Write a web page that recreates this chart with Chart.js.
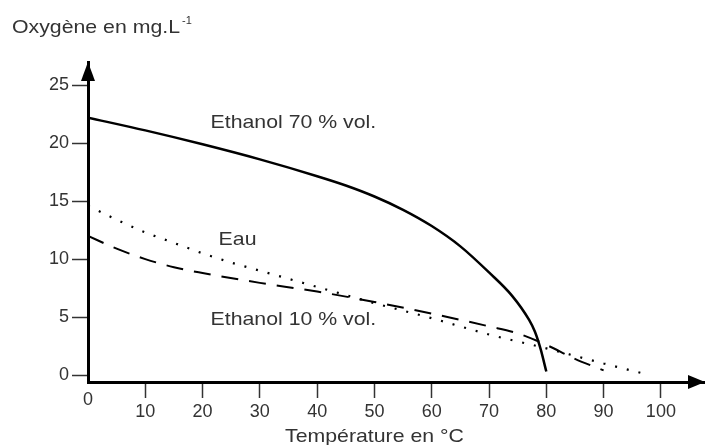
<!DOCTYPE html>
<html>
<head>
<meta charset="utf-8">
<script src="https://cdn.jsdelivr.net/npm/chart.js@4.4.0/dist/chart.umd.min.js"></script>
<style>
  html, body { margin: 0; padding: 0; background: #fff; }
  #wrap { width: 705px; height: 445px; }
</style>
</head>
<body>
<div id="wrap"><canvas id="grafico"></canvas></div>
<script>
// Oxygène dissous en fonction de la température

// ticks
var xTicks = [0, 10, 20, 30, 40, 50, 60, 70, 80, 90, 100];
var yTicks = [0, 5, 10, 15, 20, 25];

// Ethanol 70 % vol.
var tE70 = [0, 10, 20, 30, 40, 45, 50, 55, 60, 65, 70, 74, 77, 78, 79, 80];
var oE70 = [22.2, 21.1, 19.9, 18.6, 17.15, 16.35, 15.4, 14.25, 12.85, 11.1, 8.85, 6.85, 4.75, 3.75, 2.25, 0.3];

// Eau
var tEau = [0, 5, 10, 15, 20, 25, 30, 40, 50, 60, 70, 80, 90, 98];
var oEau = [14.6, 13.4, 12.3, 11.4, 10.5, 9.7, 9.0, 7.6, 6.2, 4.9, 3.5, 2.3, 1.0, 0];

// Ethanol 10 % vol.
var tE10 = [0, 5, 10, 15, 20, 30, 40, 50, 60, 70, 75, 80, 85, 90];
var oE10 = [12.0, 10.9, 10.0, 9.3, 8.8, 7.95, 7.2, 6.3, 5.3, 4.2, 3.6, 2.6, 1.4, 0.4];

// curve labels (text, temperature, oxygen)
var labelTexts = ['Ethanol 70 % vol.', 'Eau', 'Ethanol 10 % vol.'];
var labelT = [21.4, 22.8, 21.4];
var labelO = [21.8, 11.7, 4.8];

var fonte = '"Liberation Sans", Arial, sans-serif';
var cinza = '#333';

function pontos(xs, ys) {
  var out = [];
  for (let i = 0; i < xs.length; i++) {
    out.push({ x: xs[i], y: ys[i] });
  }
  return out;
}

// texte un peu élargi comme sur le document d'origine
function texto(ctx, t, x, y) {
  ctx.save();
  ctx.translate(x, y);
  ctx.scale(1.12, 1);
  ctx.fillText(t, 0, 0);
  var w = ctx.measureText(t).width * 1.12;
  ctx.restore();
  return w;
}

const decor = {
  id: 'decor',
  afterDraw(chart) {
    const ctx = chart.ctx;
    const a = chart.chartArea;
    const sx = chart.scales.x;
    const sy = chart.scales.y;
    ctx.save();

    // flèches des axes
    ctx.fillStyle = '#000';
    ctx.beginPath();
    ctx.moveTo(a.left, a.top);
    ctx.lineTo(a.left - 7, a.top + 19);
    ctx.lineTo(a.left + 7, a.top + 19);
    ctx.closePath();
    ctx.fill();

    ctx.beginPath();
    ctx.moveTo(a.right, a.bottom);
    ctx.lineTo(a.right - 17, a.bottom - 7);
    ctx.lineTo(a.right - 17, a.bottom + 7);
    ctx.closePath();
    ctx.fill();

    ctx.fillStyle = cinza;

    // 0 sous l'origine
    ctx.font = '18px ' + fonte;
    ctx.textAlign = 'center';
    ctx.textBaseline = 'middle';
    ctx.fillText('0', sx.getPixelForValue(0), a.bottom + 18);

    // titre de l'axe x
    ctx.font = '19px ' + fonte;
    ctx.textBaseline = 'alphabetic';
    texto(ctx, 'Température en °C', sx.getPixelForValue(50), 442);

    // titre de l'axe y
    ctx.textAlign = 'left';
    var w = texto(ctx, 'Oxygène en mg.L', 12, 33);
    ctx.font = '11px ' + fonte;
    ctx.fillText('-1', 12 + w + 2, 24);

    // étiquettes des courbes
    ctx.font = '19px ' + fonte;
    ctx.textBaseline = 'middle';
    for (let i = 0; i < labelTexts.length; i++) {
      texto(ctx, labelTexts[i], sx.getPixelForValue(labelT[i]), sy.getPixelForValue(labelO[i]));
    }
    ctx.restore();
  }
};

new Chart(document.getElementById('grafico'), {
  type: 'line',
  data: {
    datasets: [
      {
        label: 'Ethanol 70 % vol.',
        data: pontos(tE70, oE70),
        borderColor: '#000',
        borderWidth: 2.5,
        pointRadius: 0,
        cubicInterpolationMode: 'monotone',
        fill: false
      }, {
        label: 'Eau',
        data: pontos(tEau, oEau),
        borderColor: '#000',
        borderWidth: 2.2,
        borderDash: [2, 10],
        pointRadius: 0,
        cubicInterpolationMode: 'monotone',
        fill: false
      }, {
        label: 'Ethanol 10 % vol.',
        data: pontos(tE10, oE10),
        borderColor: '#000',
        borderWidth: 2,
        borderDash: [17, 11],
        pointRadius: 0,
        cubicInterpolationMode: 'monotone',
        fill: false
      }
    ]
  },
  options: {
    responsive: true,
    maintainAspectRatio: false,
    animation: false,
    devicePixelRatio: 1,
    events: [],
    layout: {
      padding: { top: 62, right: 0, left: 0, bottom: 0 }
    },
    plugins: {
      legend: { display: false },
      tooltip: { enabled: false }
    },
    scales: {
      x: {
        type: 'linear',
        min: 0,
        max: 107.7,
        afterBuildTicks: (scale) => { scale.ticks = xTicks.map(v => ({ value: v })); },
        afterFit: (scale) => { scale.height = 63; },
        border: { display: true, color: '#000', width: 3 },
        grid: {
          drawOnChartArea: false,
          drawTicks: true,
          tickLength: 16,
          tickWidth: 1.5,
          tickColor: (c) => (c.tick && c.tick.value === 0) ? 'rgba(0,0,0,0)' : cinza
        },
        ticks: {
          autoSkip: false,
          maxRotation: 0,
          padding: 3,
          color: cinza,
          font: { family: fonte, size: 18 },
          callback: (v) => v === 0 ? '' : v
        }
      },
      y: {
        type: 'linear',
        min: -0.6,
        max: 27,
        afterBuildTicks: (scale) => { scale.ticks = yTicks.map(v => ({ value: v })); },
        afterFit: (scale) => { scale.width = 88; },
        border: { display: true, color: '#000', width: 3 },
        grid: {
          drawOnChartArea: false,
          drawTicks: true,
          tickLength: 16,
          tickWidth: 1.5,
          tickColor: cinza
        },
        ticks: {
          autoSkip: false,
          padding: 3,
          color: cinza,
          font: { family: fonte, size: 18 }
        }
      }
    }
  },
  plugins: [decor]
});
</script>
</body>
</html>
